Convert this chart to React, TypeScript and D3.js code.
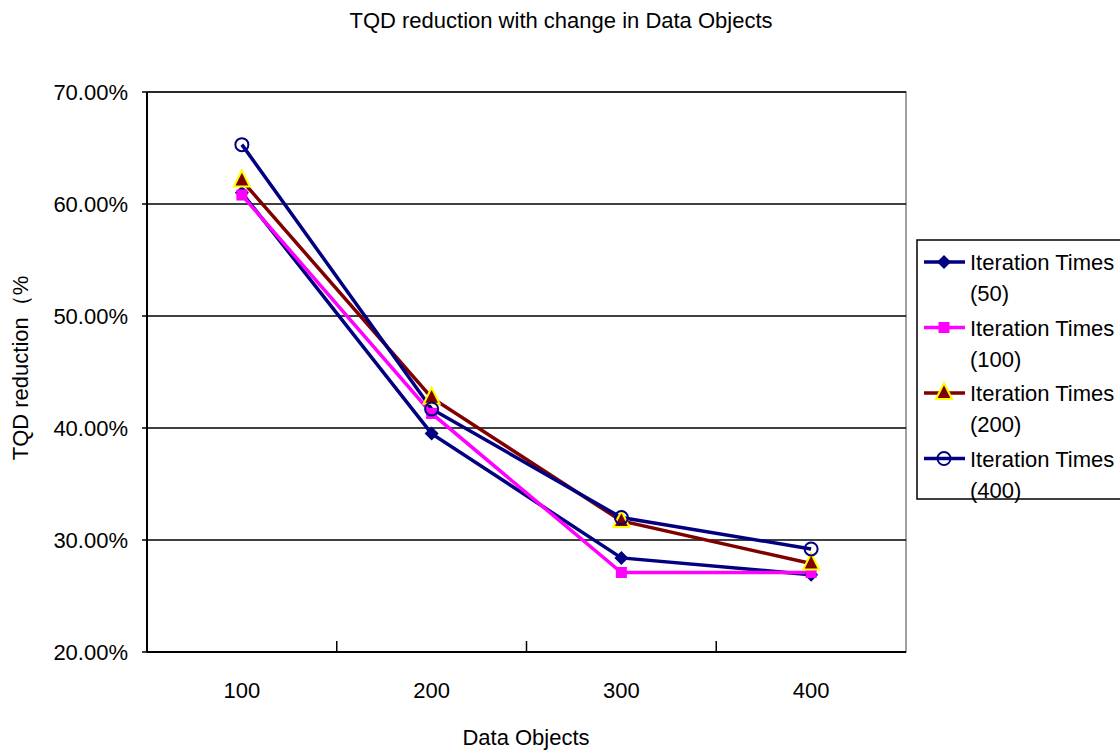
import React from "react";
import * as d3 from "d3";

// Data objects along the x axis
const categories: string[] = ["100", "200", "300", "400"];

// TQD reduction (%) per iteration count
const iter50: number[] = [61.0, 39.5, 28.4, 26.9];
const iter100: number[] = [60.8, 41.3, 27.1, 27.1];
const iter200: number[] = [62.1, 42.7, 31.7, 27.9];
const iter400: number[] = [65.3, 41.7, 32.0, 29.2];

const yTicks: number[] = [20, 30, 40, 50, 60, 70];

const seriesNames: string[] = [
  "Iteration Times (50)",
  "Iteration Times (100)",
  "Iteration Times (200)",
  "Iteration Times (400)",
];

type Marker = "diamond" | "square" | "triangle" | "circle";

const series = [
  { name: seriesNames[0], values: iter50, color: "#000080", marker: "diamond" as Marker },
  { name: seriesNames[1], values: iter100, color: "#FF00FF", marker: "square" as Marker },
  { name: seriesNames[2], values: iter200, color: "#800000", marker: "triangle" as Marker },
  { name: seriesNames[3], values: iter400, color: "#000080", marker: "circle" as Marker },
];

const W = 1120;
const H = 751;
const plot = { left: 147, right: 906, top: 92, bottom: 652 };
const FONT = "'Liberation Sans', Arial, Helvetica, sans-serif";
const FS = 22;

function MarkerShape({ kind, x, y, color }: { kind: Marker; x: number; y: number; color: string }) {
  if (kind === "diamond") {
    const r = 7;
    return <path d={`M${x},${y - r}L${x + r},${y}L${x},${y + r}L${x - r},${y}Z`} fill={color} />;
  }
  if (kind === "square") {
    const s = 11;
    return <rect x={x - s / 2} y={y - s / 2} width={s} height={s} fill={color} />;
  }
  if (kind === "triangle") {
    const r = 8;
    return (
      <path
        d={`M${x},${y - r - 2}L${x + r},${y + r - 2}L${x - r},${y + r - 2}Z`}
        fill="#800000"
        stroke="#FFFF00"
        strokeWidth={2}
        strokeLinejoin="miter"
      />
    );
  }
  return <circle cx={x} cy={y} r={6.5} fill="none" stroke={color} strokeWidth={2} />;
}

export default function App() {
  const x = d3.scaleBand<string>().domain(categories).range([plot.left, plot.right]);
  const y = d3.scaleLinear().domain([20, 70]).range([plot.bottom, plot.top]);
  const cx = (c: string) => (x(c) ?? 0) + x.bandwidth() / 2;
  const line = d3
    .line<number>()
    .x((_, i) => cx(categories[i]))
    .y((v) => y(v));

  const boundaries = categories.slice(1).map((c) => x(c) ?? 0);

  const legendX = 917;
  const legendY = 240;
  const legendStep = 65.5;

  return (
    <svg
      width={W}
      height={H}
      style={{ position: "absolute", left: 0, top: 0, background: "#fff", overflow: "hidden" }}
      fontFamily={FONT}
    >
      <rect x={0} y={0} width={W} height={H} fill="#fff" />
      <text x={561} y={28} textAnchor="middle" fontSize={FS} fill="#000">
        TQD reduction with change in Data Objects
      </text>

      {/* plot frame */}
      <rect
        x={plot.left}
        y={plot.top}
        width={plot.right - plot.left}
        height={plot.bottom - plot.top}
        fill="none"
        stroke="#808080"
        strokeWidth={1.5}
      />

      {/* horizontal gridlines */}
      {yTicks.map((t) => (
        <line key={t} x1={plot.left} x2={plot.right} y1={y(t)} y2={y(t)} stroke="#000" strokeWidth={1.5} />
      ))}

      {/* axes */}
      <line x1={plot.left} x2={plot.left} y1={plot.top} y2={plot.bottom} stroke="#000" strokeWidth={2} />
      <line x1={plot.left} x2={plot.right} y1={plot.bottom} y2={plot.bottom} stroke="#000" strokeWidth={2} />
      {yTicks.map((t) => (
        <line key={"yt" + t} x1={plot.left - 5} x2={plot.left} y1={y(t)} y2={y(t)} stroke="#000" strokeWidth={1.5} />
      ))}
      {boundaries.map((b, i) => (
        <line key={"xt" + i} x1={b} x2={b} y1={plot.bottom - 11} y2={plot.bottom} stroke="#000" strokeWidth={1.5} />
      ))}

      {/* y tick labels */}
      {yTicks.map((t) => (
        <text key={"yl" + t} x={128} y={y(t) + 8} textAnchor="end" fontSize={FS} fill="#000">
          {t.toFixed(2) + "%"}
        </text>
      ))}

      {/* x tick labels */}
      {categories.map((c) => (
        <text key={"xl" + c} x={cx(c)} y={698} textAnchor="middle" fontSize={FS} fill="#000">
          {c}
        </text>
      ))}

      <text x={526} y={745} textAnchor="middle" fontSize={FS} fill="#000">
        Data Objects
      </text>
      <text
        transform={`translate(28,368) rotate(-90)`}
        textAnchor="middle"
        fontSize={FS}
        fill="#000"
      >
        TQD reduction（%
      </text>

      {/* series lines */}
      {series.map((s) => (
        <path key={s.name + "l"} d={line(s.values) ?? ""} fill="none" stroke={s.color} strokeWidth={3.5} />
      ))}
      {series.map((s) =>
        s.values.map((v, i) => (
          <MarkerShape key={s.name + i} kind={s.marker} x={cx(categories[i])} y={y(v)} color={s.color} />
        ))
      )}

      {/* legend */}
      <rect x={legendX} y={legendY} width={W} height={259} fill="#fff" stroke="#000" strokeWidth={1.5} />
      {series.map((s, i) => {
        const ly = legendY + 22 + i * legendStep;
        const split = s.name.indexOf(" (");
        const first = s.name.slice(0, split);
        const second = s.name.slice(split + 1);
        return (
          <g key={"lg" + i}>
            <line x1={924} x2={965} y1={ly} y2={ly} stroke={s.color} strokeWidth={3.5} />
            <MarkerShape kind={s.marker} x={944} y={ly} color={s.color} />
            <text x={970} y={ly + 8} fontSize={FS} fill="#000">
              {first}
            </text>
            <text x={970} y={ly + 39} fontSize={FS} fill="#000">
              {second}
            </text>
          </g>
        );
      })}
    </svg>
  );
}
